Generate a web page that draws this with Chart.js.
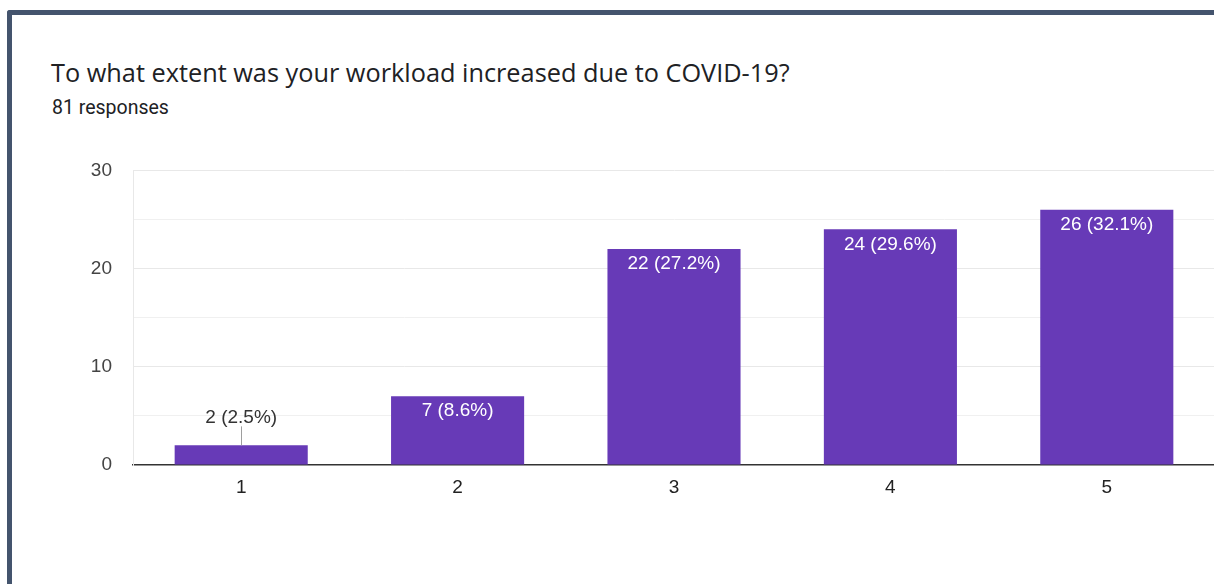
<!DOCTYPE html>
<html>
<head>
<meta charset="utf-8">
<script src="https://cdn.jsdelivr.net/npm/chart.js@4/dist/chart.umd.min.js"></script>
<style>
  html, body { margin: 0; padding: 0; background: #fff; overflow: hidden; }
  body { width: 1214px; height: 584px; position: relative; }
  .frame {
    position: absolute; left: 7px; top: 10px; right: -10px; bottom: -10px;
    border-left: 5px solid #44546d; border-top: 5px solid #44546d;
    border-top-left-radius: 3px;
  }
  .title {
    position: absolute; left: 51px; top: 55px;
    font: 25.3px "Open Sans", sans-serif; color: #202124; white-space: nowrap;
  }
  .sub {
    position: absolute; left: 52px; top: 96px;
    font: 19.5px Roboto, sans-serif; color: #202124; white-space: nowrap;
  }
  #wrap { position: absolute; left: 0; top: 138px; width: 1215px; height: 446px; }
</style>
</head>
<body>
<div class="frame"></div>
<div class="title">To what extent was your workload increased due to COVID-19?</div>
<div class="sub">81 responses</div>
<div id="wrap"><canvas id="chart"></canvas></div>
<script>
const categories = ["1", "2", "3", "4", "5"];
const counts = [2, 7, 22, 24, 26];
const percents = ["2.5%", "8.6%", "27.2%", "29.6%", "32.1%"];
const yTicks = [0, 10, 20, 30];

const barColor = "#673ab7";
const labelFont = '19px "Liberation Sans", Arial, sans-serif';

// count (percent) labels: inside the bar top, or above it with a short leader line
const barLabels = {
  id: "barLabels",
  afterDatasetsDraw(chart) {
    const ctx = chart.ctx;
    const meta = chart.getDatasetMeta(0);
    ctx.save();
    ctx.font = labelFont;
    ctx.textAlign = "center";
    ctx.textBaseline = "middle";
    meta.data.forEach((bar, i) => {
      const text = counts[i] + " (" + percents[i] + ")";
      const h = bar.base - bar.y;
      if (h > 30) {
        ctx.fillStyle = "#ffffff";
        ctx.fillText(text, bar.x, bar.y + 15);
      } else {
        ctx.strokeStyle = "#9e9e9e";
        ctx.lineWidth = 1;
        ctx.beginPath();
        ctx.moveTo(Math.round(bar.x) + 0.5, bar.y - 19);
        ctx.lineTo(Math.round(bar.x) + 0.5, bar.y);
        ctx.stroke();
        ctx.fillStyle = "#333333";
        ctx.fillText(text, bar.x, bar.y - 28);
      }
    });
    ctx.restore();
  }
};

new Chart(document.getElementById("chart"), {
  type: "bar",
  data: {
    labels: categories,
    datasets: [{
      data: counts,
      backgroundColor: barColor,
      borderWidth: 0,
      barPercentage: 0.615,
      categoryPercentage: 1.0
    }]
  },
  options: {
    responsive: true,
    maintainAspectRatio: false,
    animation: false,
    layout: { padding: { top: 8, left: 0, right: 0, bottom: 0 } },
    plugins: { legend: { display: false }, tooltip: { enabled: false } },
    scales: {
      x: {
        grid: { display: false, drawTicks: false },
        border: { display: true, color: "#333333", width: 1.5 },
        ticks: {
          padding: 11,
          color: "#222222",
          font: { family: '"Liberation Sans", Arial, sans-serif', size: 19 }
        },
        afterFit(scale) { scale.height = 119; }
      },
      y: {
        min: 0,
        max: 30,
        grid: {
          drawTicks: false,
          color: (c) => c.tick && c.tick.value === 0 ? "rgba(0,0,0,0)" :
            (c.tick && c.tick.value % 10 === 0 ? "#e8e8e8" : "#f0f0f0"),
          lineWidth: 1
        },
        border: { display: true, color: "#e8e8e8", width: 1 },
        ticks: {
          stepSize: 5,
          padding: 21,
          color: "#444444",
          font: { family: '"Liberation Sans", Arial, sans-serif', size: 19 },
          callback: (v) => yTicks.includes(v) ? String(v) : ""
        },
        afterFit(scale) { scale.width = 133; }
      }
    }
  },
  plugins: [barLabels]
});
</script>
</body>
</html>
